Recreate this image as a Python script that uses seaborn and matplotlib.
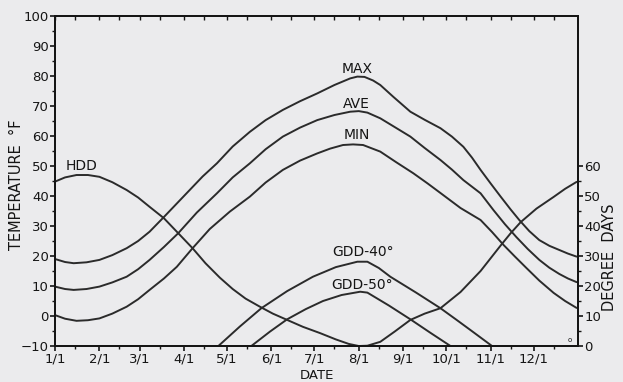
import matplotlib
matplotlib.use('Agg')
import matplotlib.pyplot as plt
import seaborn as sns

# day of year (0 = 1/1) and values
max_day = [0, 7, 13, 22, 31, 40, 50, 58, 66, 76, 85, 94, 103, 113, 124, 136, 147, 159, 171, 183, 195, 206, 211, 216, 222, 227, 236, 248, 258, 269, 277, 285, 291, 297, 304, 311, 318, 324, 331, 338, 345, 352, 358, 364]
max_temp = [19.0, 18.0, 17.6, 17.9, 18.7, 20.3, 22.6, 25.0, 28.1, 33.0, 37.5, 42.0, 46.5, 50.9, 56.5, 61.4, 65.3, 68.7, 71.6, 74.2, 77.0, 79.2, 79.8, 79.7, 78.5, 77.0, 73.1, 68.1, 65.4, 62.6, 59.8, 56.4, 52.8, 48.7, 44.2, 39.8, 35.5, 32.0, 28.3, 25.3, 23.4, 22.0, 20.8, 19.8]

ave_day = [0, 7, 13, 22, 31, 40, 50, 58, 66, 76, 86, 99, 113, 124, 136, 147, 159, 171, 183, 195, 206, 212, 218, 227, 237, 248, 258, 269, 277, 285, 297, 306, 314, 322, 330, 338, 345, 352, 358, 364]
ave_temp = [9.8, 9.0, 8.7, 9.0, 9.8, 11.2, 13.1, 15.6, 18.7, 23.0, 27.6, 34.5, 40.9, 46.2, 50.9, 55.6, 59.8, 62.8, 65.3, 67.0, 68.1, 68.3, 67.8, 65.9, 63.0, 59.8, 56.0, 52.0, 48.8, 45.3, 40.9, 35.3, 30.6, 26.3, 22.3, 18.7, 16.1, 14.0, 12.5, 11.3]

min_day = [0, 7, 15, 23, 31, 40, 50, 58, 66, 76, 85, 96, 108, 122, 136, 147, 159, 171, 183, 192, 201, 208, 215, 227, 238, 250, 260, 269, 283, 297, 305, 313, 321, 329, 338, 348, 356, 364]
min_temp = [0.3, -0.9, -1.6, -1.4, -0.8, 0.8, 3.1, 5.6, 8.7, 12.5, 16.4, 22.6, 29.0, 34.8, 39.8, 44.5, 48.7, 51.8, 54.2, 55.8, 57.0, 57.2, 57.0, 54.8, 51.3, 47.6, 44.2, 41.0, 36.0, 32.0, 28.0, 23.7, 19.8, 16.0, 11.8, 7.7, 5.0, 2.7]

hdd_day = [0, 7, 15, 23, 31, 40, 50, 58, 66, 76, 86, 96, 105, 115, 124, 133, 143, 152, 162, 173, 185, 196, 205, 212, 218, 227, 237, 248, 258, 269, 283, 297, 311, 318, 325, 336, 348, 356, 364]
hdd_val = [54.8, 56.2, 57.0, 57.0, 56.4, 54.6, 52.0, 49.5, 46.4, 42.6, 37.6, 32.6, 27.6, 22.8, 19.0, 15.8, 13.1, 10.8, 8.7, 6.4, 4.3, 2.2, 0.7, 0.0, 0.1, 1.4, 4.8, 8.7, 10.8, 12.6, 18.0, 25.0, 33.5, 37.6, 41.3, 45.8, 49.7, 52.4, 54.7]

gdd40_day = [114, 129, 144, 162, 180, 196, 211, 218, 226, 234, 252, 269, 280, 290, 305]
gdd40_val = [0.0, 6.5, 12.6, 18.3, 23.1, 26.3, 28.1, 28.1, 26.0, 23.1, 17.8, 12.6, 8.8, 5.3, 0.0]

gdd50_day = [137, 150, 162, 175, 187, 200, 213, 218, 233, 248, 262, 276]
gdd50_val = [0.0, 4.8, 8.9, 12.3, 15.0, 17.0, 18.1, 17.8, 13.5, 8.9, 4.4, 0.0]

month_days = [0, 31, 59, 90, 120, 151, 181, 212, 243, 273, 304, 334]
month_labels = ['1/1', '2/1', '3/1', '4/1', '5/1', '6/1', '7/1', '8/1', '9/1', '10/1', '11/1', '12/1']
mid_days = [14, 45, 73, 104, 134, 165, 195, 226, 257, 287, 318, 348]

BG = '#ebebed'
LINE = '#2b2b2b'
INK = '#151515'

sns.set_style('ticks')
plt.rcParams['font.family'] = ['DejaVu Sans']
plt.rcParams['text.color'] = INK
plt.rcParams['axes.labelcolor'] = INK
plt.rcParams['xtick.color'] = INK
plt.rcParams['ytick.color'] = INK

fig = plt.figure(figsize=(6.23, 3.82), dpi=100, facecolor=BG)
ax = fig.add_axes([0.0883, 0.0942, 0.8395, 0.8639])
ax.set_facecolor(BG)

# temperature curves (left axis)
for d, v in [(max_day, max_temp), (ave_day, ave_temp), (min_day, min_temp)]:
    sns.lineplot(x=d, y=v, ax=ax, color=LINE, linewidth=1.4, estimator=None, sort=False)

ax.set_xlim(0, 365)
ax.set_ylim(-10, 100)
ax.set_xticks(month_days)
ax.set_xticklabels(month_labels)
ax.set_xticks(mid_days, minor=True)
ax.set_yticks(range(-10, 101, 10))
ax.set_yticks(range(-5, 100, 10), minor=True)
ax.tick_params(which='major', direction='out', length=3.5, width=1.2, labelsize=9.5, pad=1)
ax.tick_params(which='minor', direction='out', length=2.5, width=1.0)

# degree-day curves (right axis)
ax2 = ax.twinx()
for d, v in [(hdd_day, hdd_val), (gdd40_day, gdd40_val), (gdd50_day, gdd50_val)]:
    sns.lineplot(x=d, y=v, ax=ax2, color=LINE, linewidth=1.4, estimator=None, sort=False)
ax2.set_ylim(0, 110)
ax2.set_yticks(range(0, 61, 10))
ax2.set_yticks(range(5, 60, 10), minor=True)
ax2.tick_params(which='major', direction='out', length=3.5, width=1.2, labelsize=9.5, pad=1)
ax2.tick_params(which='minor', direction='out', length=2.5, width=1.0)

top = ax.secondary_xaxis('top')
top.set_xticks(month_days)
top.set_xticks(mid_days, minor=True)
top.tick_params(which='both', direction='in', length=3, width=1.0, labeltop=False)

for a in (ax, ax2, top):
    for s in a.spines.values():
        s.set_linewidth(1.4)
        s.set_color(INK)

ax.set_xlabel('DATE', fontsize=9.5, labelpad=2.5)
ax.set_ylabel('TEMPERATURE  \u00b0F', fontsize=10.5)
ax.yaxis.set_label_coords(-0.06, 0.49)
ax2.set_xlabel('')
ax2.set_ylabel('DEGREE  DAYS', fontsize=10.5)
ax2.yaxis.set_label_coords(1.045, 0.27)

# curve labels
ax.text(211, 82.3, 'MAX', fontsize=10, ha='center', va='center')
ax.text(210.5, 70.7, 'AVE', fontsize=10, ha='center', va='center')
ax.text(210.7, 60.5, 'MIN', fontsize=10, ha='center', va='center')
ax.text(18.6, 50, 'HDD', fontsize=10, ha='center', va='center')
ax.text(215, 21.2, 'GDD-40\u00b0', fontsize=10, ha='center', va='center')
ax.text(214, 10.5, 'GDD-50\u00b0', fontsize=10, ha='center', va='center')
ax.text(359.5, -8, 'o', fontsize=5, ha='center', va='center')

fig.savefig('out.png', dpi=100, facecolor=BG)
